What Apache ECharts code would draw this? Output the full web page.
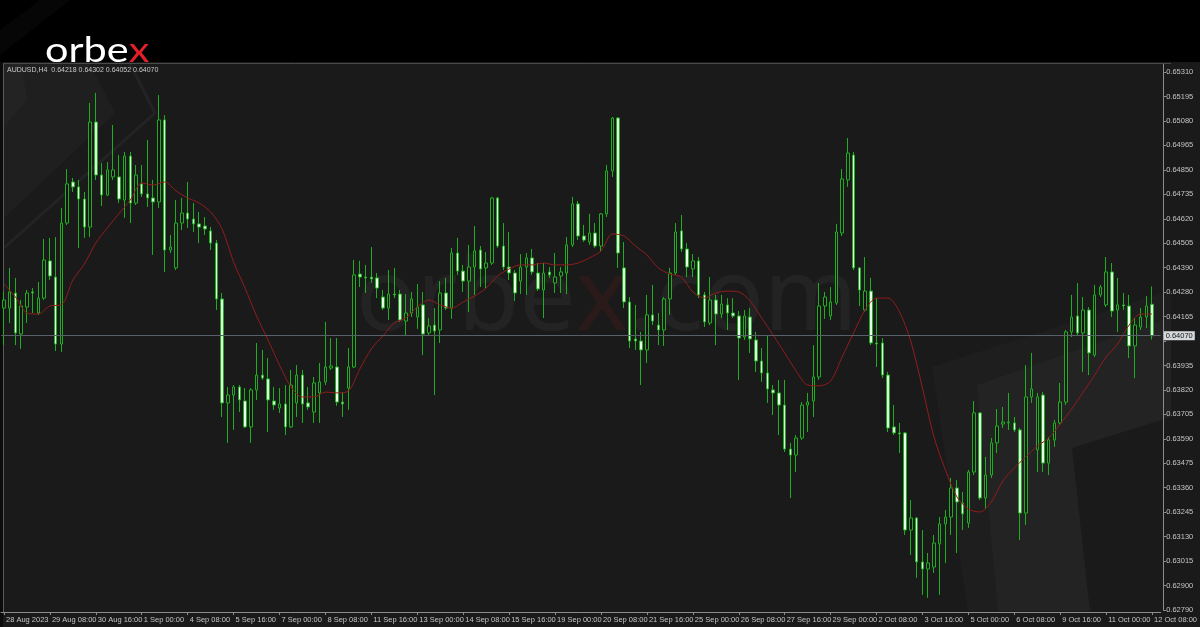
<!DOCTYPE html>
<html>
<head>
<meta charset="utf-8">
<script src="https://cdn.jsdelivr.net/npm/echarts@6/dist/echarts.min.js"></script>
<style>
html,body{margin:0;padding:0;background:#1a1a1a;}
#chart{width:1200px;height:627px;}
</style>
</head>
<body>
<div id="chart"></div>
<script>
// ---------------- DATA (AUDUSD, H4) ----------------
const symbolName = 'AUDUSD,H4';
const opens = [
.64200,.64200,.64271,.64078,.64205,.64276,.64177,.64247,.64422,.64346,
.64031,.64600,.64793,.64770,.64713,.64581,.65075,.64826,.64732,.64817,
.64817,.64708,.64915,.64694,.64784,.64737,.64718,.64699,.65085,.64473,
.64389,.64600,.64647,.64619,.64596,.64586,.64563,.64506,.64243,.63754,
.63791,.63829,.63763,.63641,.63815,.63885,.63867,.63763,.63730,.63749,
.63641,.63754,.63885,.63754,.63711,.63801,.63853,.63918,.63923,.63758,
.63824,.63923,.64360,.64346,.64346,.64342,.64252,.64200,.64266,.64266,
.64139,.64177,.64158,.64215,.64083,.64120,.64097,.64271,.64200,.64459,
.64374,.64327,.64393,.64473,.64389,.64412,.64718,.64492,.64393,.64365,
.64327,.64393,.64436,.64365,.64285,.64370,.64318,.64351,.64365,.64497,
.64690,.64539,.64511,.64553,.64492,.64643,.64845,.65094,.64389,.64229,
.64055,.64045,.64003,.64168,.64120,.64097,.64243,.64365,.64563,.64478,
.64384,.64422,.64262,.64130,.64238,.64172,.64215,.64177,.64163,.64064,
.64158,.64050,.63951,.63895,.63815,.63801,.63744,.63537,.63509,.63589,
.63744,.63763,.63876,.64210,.64163,.64224,.64553,.64803,.64920,.64389,
.64191,.64280,.64036,.64036,.63885,.63641,.63613,.63613,.63156,.63213,
.63006,.62973,.62982,.63091,.63185,.63217,.63354,.63283,.63189,.63429,
.63707,.63307,.63415,.63566,.63655,.63660,.63660,.63627,.63236,.63782,
.63533,.63791,.63471,.63580,.63660,.63758,.64088,.64163,.64083,.64191,
.63979,.64262,.64215,.64370,.64191,.64215,.64210,.64022,.64111,.64158,
.64218];
const closes = [
.64238,.64276,.64083,.64210,.64271,.64271,.64247,.64426,.64351,.64031,
.64600,.64784,.64770,.64713,.64581,.65075,.64826,.64732,.64850,.64850,
.64713,.64915,.64694,.64826,.64737,.64718,.64699,.65085,.64473,.64487,
.64600,.64647,.64619,.64596,.64581,.64572,.64506,.64243,.63754,.63791,
.63829,.63768,.63641,.63815,.63885,.63871,.63768,.63744,.63749,.63641,
.63838,.63885,.63749,.63735,.63848,.63853,.63923,.63928,.63758,.63749,
.63923,.64356,.64346,.64342,.64337,.64294,.64200,.64266,.64262,.64144,
.64177,.64243,.64205,.64078,.64116,.64092,.64271,.64200,.64459,.64374,
.64327,.64393,.64469,.64384,.64412,.64718,.64492,.64393,.64365,.64271,
.64393,.64436,.64370,.64290,.64365,.64356,.64346,.64370,.64497,.64690,
.64539,.64520,.64553,.64492,.64643,.64845,.65094,.64459,.64229,.64045,
.64045,.64003,.64168,.64139,.64097,.64243,.64365,.64558,.64478,.64393,
.64422,.64262,.64135,.64238,.64172,.64219,.64177,.64163,.64059,.64163,
.64055,.63951,.63895,.63820,.63801,.63744,.63537,.63509,.63589,.63744,
.63758,.63876,.64210,.64252,.64229,.64558,.64807,.64929,.64389,.64285,
.64280,.64036,.64031,.63885,.63636,.63613,.63608,.63156,.63213,.63006,
.62973,.63001,.63095,.63185,.63217,.63354,.63288,.63232,.63429,.63707,
.63307,.63415,.63566,.63645,.63664,.63664,.63627,.63236,.63782,.63820,
.63782,.63471,.63580,.63660,.63758,.64088,.64158,.64083,.64191,.63989,
.64262,.64299,.64370,.64186,.64215,.64210,.64022,.64120,.64158,.64210,
.64070];
const lows = [
.64026,.64130,.64026,.64008,.64130,.64177,.64168,.64238,.64332,.63998,
.63994,.64591,.64746,.64483,.64530,.64534,.64803,.64680,.64727,.64803,
.64694,.64624,.64600,.64685,.64723,.64676,.64450,.64671,.64370,.64459,
.64379,.64567,.64577,.64558,.64506,.64544,.64473,.64191,.63688,.63566,
.63627,.63711,.63636,.63566,.63768,.63862,.63617,.63721,.63707,.63603,
.63636,.63688,.63660,.63721,.63660,.63660,.63838,.63909,.63740,.63688,
.63721,.63918,.64299,.64271,.64318,.64247,.64191,.64144,.64247,.64135,
.64069,.64158,.64102,.63979,.64073,.63791,.64036,.64191,.64149,.64356,
.64276,.64182,.64262,.64299,.64294,.64403,.64483,.64379,.64332,.64233,
.64266,.64262,.64356,.64280,.64153,.64342,.64271,.64271,.64266,.64487,
.64520,.64511,.64497,.64483,.64464,.64628,.64817,.64389,.64200,.64012,
.64003,.63838,.63942,.64120,.64026,.64022,.64168,.64356,.64464,.64346,
.64346,.64247,.64111,.64120,.64026,.64153,.64097,.64153,.63862,.64050,
.63989,.63900,.63853,.63754,.63697,.63603,.63523,.63307,.63429,.63580,
.63617,.63688,.63862,.64149,.64144,.64215,.64539,.64770,.64379,.64210,
.64182,.64026,.63923,.63871,.63617,.63603,.63518,.63133,.63039,.62931,
.62851,.62837,.62954,.62851,.63001,.63133,.63048,.63156,.63166,.63415,
.63297,.63255,.63401,.63518,.63636,.63627,.63617,.63109,.63180,.63754,
.63429,.63429,.63415,.63547,.63650,.63744,.64064,.64073,.63900,.63885,
.63970,.64252,.64205,.64158,.64088,.64191,.63965,.63871,.64097,.64106,
.64052];
const highs = [
.64276,.64389,.64342,.64238,.64285,.64294,.64323,.64525,.64530,.64534,
.64671,.64854,.64812,.64803,.64746,.65165,.65212,.64882,.64887,.65061,
.64920,.64934,.64934,.64873,.64873,.64991,.64803,.65202,.65108,.64544,
.64708,.64718,.64793,.64694,.64652,.64628,.64581,.64520,.64271,.63829,
.63838,.63838,.63824,.63824,.64036,.64003,.63965,.63829,.63824,.63838,
.63909,.63932,.63909,.63829,.63876,.63942,.64135,.64059,.64059,.63805,
.64012,.64426,.64422,.64403,.64487,.64365,.64285,.64379,.64389,.64285,
.64266,.64276,.64313,.64276,.64153,.64200,.64327,.64342,.64483,.64530,
.64403,.64497,.64586,.64492,.64464,.64723,.64723,.64600,.64558,.64379,
.64454,.64459,.64478,.64412,.64412,.64393,.64459,.64393,.64534,.64723,
.64704,.64591,.64643,.64600,.64647,.64873,.65099,.65099,.64511,.64252,
.64215,.64088,.64262,.64309,.64177,.64252,.64389,.64600,.64638,.64506,
.64454,.64440,.64276,.64346,.64262,.64262,.64247,.64247,.64186,.64191,
.64200,.64088,.64012,.64073,.63838,.63862,.63862,.63566,.63603,.63758,
.63801,.64026,.64318,.64276,.64299,.64596,.64854,.65000,.64934,.64393,
.64440,.64342,.64247,.64059,.63900,.63744,.63660,.63617,.63297,.63217,
.63156,.63048,.63133,.63217,.63250,.63401,.63392,.63335,.63439,.63763,
.63711,.63500,.63589,.63725,.63735,.63801,.63688,.63636,.63932,.63989,
.63801,.63805,.63594,.63674,.63848,.64097,.64262,.64318,.64252,.64205,
.64309,.64309,.64440,.64412,.64342,.64271,.64262,.64153,.64200,.64257,
.64302];
// moving average (red line) read at every second bar
const maBars = [0,2,4,6,8,10,12,14,16,18,20,22,24,26,28,30,32,34,36,38,40,42,44,46,48,50,
52,54,56,58,60,62,64,66,68,70,72,74,76,78,80,82,84,86,88,90,92,94,96,98,100,
102,104,106,108,110,112,114,116,118,120,122,124,126,128,130,132,134,136,138,140,
142,144,146,148,150,152,154,156,158,160,162,164,166,168,170,172,174,176,178,180,
182,184,186,188,190,192,194,196,198,200];
const maValues = [.64313,.64252,.64177,.64172,.64210,.64215,.64332,.64407,.64506,.64577,
.64643,.64708,.64788,.64779,.64793,.64751,.64718,.64694,.64652,.64572,.64417,.64294,
.64163,.64050,.63932,.63829,.63782,.63782,.63805,.63801,.63810,.63914,.64008,.64069,
.64130,.64153,.64205,.64238,.64215,.64200,.64229,.64257,.64294,.64351,.64384,.64403,
.64403,.64412,.64403,.64403,.64412,.64436,.64469,.64549,.64539,.64492,.64450,.64389,
.64360,.64346,.64276,.64247,.64271,.64280,.64276,.64233,.64153,.64073,.63989,.63904,
.63838,.63834,.63857,.63970,.64083,.64191,.64247,.64247,.64182,.64041,.63824,.63594,
.63439,.63312,.63255,.63241,.63288,.63387,.63448,.63500,.63551,.63589,.63655,.63725,
.63805,.63885,.63970,.64031,.64120,.64172,.64172];
// tick labels
const xTickLabels = ['28 Aug 2023','29 Aug 08:00','30 Aug 16:00','1 Sep 00:00','4 Sep 08:00',
'5 Sep 16:00','7 Sep 00:00','8 Sep 08:00','11 Sep 16:00','13 Sep 00:00','14 Sep 08:00',
'15 Sep 16:00','19 Sep 00:00','20 Sep 08:00','21 Sep 16:00','25 Sep 00:00','26 Sep 08:00',
'27 Sep 16:00','29 Sep 00:00','2 Oct 08:00','3 Oct 16:00','5 Oct 00:00','6 Oct 08:00',
'9 Oct 16:00','11 Oct 00:00','12 Oct 08:00'];
const yTickLabels = ['0.65310','0.65195','0.65080','0.64965','0.64850','0.64735','0.64620',
'0.64505','0.64390','0.64280','0.64165','','0.63935','0.63820','0.63705','0.63590','0.63475',
'0.63360','0.63245','0.63130','0.63015','0.62900','0.62790'];
const yMin = 0.62780, yMax = 0.65348, yStep = 0.00115;
const barCount = 202; // category slots (last one empty space)
// ---------------------------------------------------

const barIndex = Array.from({length: barCount}, (_, i) => String(i));
const candles = opens.map((o, i) => [o, closes[i], lows[i], highs[i]]);
const maData = maBars.map((b, i) => [b, maValues[i]]);
const last = opens.length - 1;
const headerText = symbolName + '  ' + [opens[last], highs[last], lows[last], closes[last]].map(v => v.toFixed(5)).join(' ');

const chart = echarts.init(document.getElementById('chart'), null, {renderer: 'canvas'});
const green = '#1fae1f';
const labelFont = 'Liberation Sans';

chart.setOption({
  animation: false,
  backgroundColor: '#1a1a1a',
  grid: {left: 1.1, right: 31.3, top: 64, bottom: 17, containLabel: false},
  xAxis: {
    type: 'category', data: barIndex, boundaryGap: true, offset: 2,
    axisLine: {show: true, lineStyle: {color: '#8c8c8c', width: 1}},
    axisTick: {show: true, interval: 7, alignWithLabel: true, length: 3, lineStyle: {color: '#8c8c8c'}},
    axisLabel: {
      interval: 7, align: 'left', margin: 4, padding: [0, 0, 0, 2],
      color: '#c4c4c4', fontSize: 7.5, fontFamily: labelFont,
      formatter: (v, i) => xTickLabels[Math.round(i / 8)] || ''
    },
    splitLine: {show: false}
  },
  yAxis: {
    type: 'value', position: 'right', min: yMin, max: yMax, interval: yStep, offset: 2.5,
    axisLine: {show: true, lineStyle: {color: '#8c8c8c', width: 1}},
    axisTick: {show: true, length: 3, lineStyle: {color: '#8c8c8c'}},
    axisLabel: {
      margin: 3, color: '#c4c4c4', fontSize: 7.5, fontFamily: labelFont, showMaxLabel: false,
      formatter: function (v) {
        const k = Math.round((v - yMin) / yStep);
        if (Math.abs(v - (yMin + k * yStep)) > 1e-6) return '';
        return yTickLabels[yTickLabels.length - 1 - k] || '';
      }
    },
    splitLine: {show: false}
  },
  graphic: [
    // header band
    {type: 'rect', z: 0, shape: {x: 0, y: 0, width: 1200, height: 62}, style: {fill: '#000'}},
    {type: 'polygon', z: 0, shape: {points: [[0, 30], [40, 0], [70, 0], [0, 55]]}, style: {fill: 'rgba(255,255,255,0.025)'}},
    {type: 'rect', z: 0, shape: {x: 0, y: 62, width: 3, height: 565}, style: {fill: '#0c0c0c'}},
    // background decorations (top-left chevrons)
    {type: 'polygon', z: 0, shape: {points: [[4, 64], [90, 64], [115, 113], [4, 218]]}, style: {fill: 'rgba(255,255,255,0.022)'}},
    {type: 'polygon', z: 0, shape: {points: [[4, 64], [22, 64], [27, 100], [4, 127]]}, style: {fill: 'rgba(255,255,255,0.02)'}},
    {type: 'polyline', z: 0, shape: {points: [[130, 64], [155, 113], [4, 248]]}, style: {stroke: 'rgba(255,255,255,0.045)', lineWidth: 3, fill: null}},
    // background decorations (bottom-right)
    {type: 'polygon', z: 0, shape: {points: [[932, 367], [1171, 290], [1171, 611], [968, 611]]}, style: {fill: 'rgba(255,255,255,0.02)'}},
    {type: 'polygon', z: 0, shape: {points: [[977, 385], [1171, 317], [1171, 611], [998, 611]]}, style: {fill: 'rgba(255,255,255,0.025)'}},
    {type: 'polygon', z: 0, shape: {points: [[1072, 448], [1171, 417], [1171, 611], [1090, 611]]}, style: {fill: '#1a1a1a'}},
    // watermark
    {type: 'text', z: 0, x: 356, y: 352, style: {text: '{g|orbe}{r|x}{g|.com}', font: '100px "Noto Sans"', verticalAlign: 'bottom', textAlign: 'left',
      rich: {g: {fill: 'rgba(255,255,255,0.045)', font: '100px "Noto Sans"'}, r: {fill: 'rgba(200,30,30,0.10)', font: '100px "Noto Sans"'}}}},
    // frame (left and top)
    {type: 'line', z: 1, shape: {x1: 3.5, y1: 63, x2: 3.5, y2: 612}, style: {stroke: '#5a5a5a', lineWidth: 1}},
    {type: 'line', z: 1, shape: {x1: 3.5, y1: 63.5, x2: 1171, y2: 63.5}, style: {stroke: '#4a4a4a', lineWidth: 1}},
    // logo
    {type: 'text', z: 5, x: 45, y: 68, scaleX: 1.22, originX: 0, originY: 0,
      style: {text: '{w|orbe}{r|x}', font: '34px Lato', verticalAlign: 'bottom', textAlign: 'left',
        rich: {w: {fill: '#ffffff', font: '34px Lato'}, r: {fill: '#e3202a', font: '34px Lato'}}}},
    // symbol header
    {type: 'text', z: 5, x: 7, y: 70, style: {text: headerText, fill: '#c8c8c8', font: '7px "Liberation Sans"', verticalAlign: 'middle', textAlign: 'left'}}
  ],
  series: [
    {
      type: 'candlestick', name: symbolName, data: candles, barWidth: 3, z: 2,
      itemStyle: {color: '#141414', color0: '#e6ffe6', borderColor: green, borderColor0: green, borderColorDoji: green, borderWidth: 1}
    },
    {
      type: 'line', name: 'MA', data: maData, smooth: 0.3, symbol: 'none', z: 3,
      lineStyle: {color: '#921c1c', width: 1},
      markLine: {
        silent: true, symbol: 'none', animation: false, precision: 5,
        lineStyle: {color: '#58616a', width: 1, type: 'solid'},
        label: {show: true, position: 'end', distance: 3, formatter: () => closes[last].toFixed(5),
          backgroundColor: '#d6d9dc', color: '#111', fontSize: 7.5, fontFamily: labelFont, padding: [1, 2, 0, 2]},
        data: [{yAxis: closes[last]}]
      }
    }
  ]
});
</script>
</body>
</html>
